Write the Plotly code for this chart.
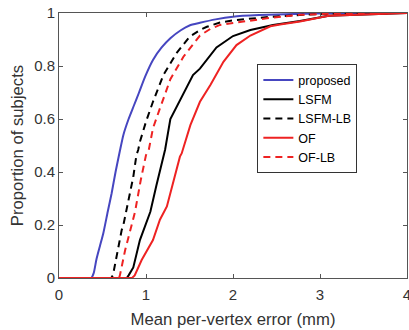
import plotly.graph_objects as go

# Data
proposed_x = [0, 0.37, 0.40, 0.43, 0.47, 0.51, 0.56, 0.605, 0.65, 0.70, 0.74, 0.80, 0.86, 0.92, 0.99, 1.08, 1.18, 1.28, 1.40, 1.50, 1.62, 1.80, 2.0, 2.3, 2.7, 3.2, 4.0]
proposed_y = [0, 0, 0.02, 0.07, 0.12, 0.17, 0.25, 0.32, 0.40, 0.48, 0.54, 0.60, 0.65, 0.70, 0.76, 0.823, 0.87, 0.905, 0.935, 0.953, 0.963, 0.976, 0.986, 0.992, 0.996, 0.999, 1.0]

lsfm_x = [0, 0.78, 0.80, 0.854, 0.93, 0.99, 1.05, 1.12, 1.22, 1.28, 1.39, 1.54, 1.62, 1.77, 1.81, 2.0, 2.2, 2.46, 2.77, 3.1, 3.5, 4.0]
lsfm_y = [0, 0, 0.01, 0.04, 0.143, 0.20, 0.25, 0.35, 0.485, 0.60, 0.67, 0.766, 0.79, 0.854, 0.87, 0.913, 0.936, 0.955, 0.97, 0.99, 0.995, 1.0]

lsfmlb_x = [0, 0.60, 0.62, 0.66, 0.72, 0.74, 0.78, 0.82, 0.854, 0.89, 0.91, 0.93, 1.0, 1.08, 1.2, 1.35, 1.5, 1.62, 1.70, 1.85, 2.0, 2.4, 2.8, 3.2, 4.0]
lsfmlb_y = [0, 0, 0.01, 0.08, 0.18, 0.20, 0.26, 0.33, 0.382, 0.464, 0.483, 0.514, 0.59, 0.665, 0.766, 0.848, 0.91, 0.936, 0.948, 0.964, 0.972, 0.985, 0.993, 0.998, 1.0]

of_x = [0, 0.84, 0.87, 0.95, 1.08, 1.16, 1.24, 1.31, 1.39, 1.41, 1.51, 1.62, 1.74, 1.89, 2.04, 2.2, 2.43, 2.54, 2.77, 3.1, 3.5, 4.0]
of_y = [0, 0, 0.01, 0.068, 0.143, 0.22, 0.27, 0.357, 0.458, 0.47, 0.577, 0.665, 0.728, 0.816, 0.879, 0.915, 0.95, 0.957, 0.968, 0.99, 0.995, 1.0]

oflb_x = [0, 0.69, 0.70, 0.76, 0.835, 0.874, 0.94, 1.0, 1.03, 1.08, 1.16, 1.28, 1.43, 1.58, 1.62, 1.74, 1.85, 2.0, 2.39, 2.77, 3.2, 4.0]
oflb_y = [0, 0, 0.01, 0.105, 0.20, 0.25, 0.37, 0.464, 0.48, 0.565, 0.64, 0.75, 0.835, 0.898, 0.915, 0.94, 0.955, 0.962, 0.98, 0.993, 0.998, 1.0]

x_ticks = [0, 1, 2, 3, 4]
y_ticks = [0, 0.2, 0.4, 0.6, 0.8, 1]
y_tick_labels = ["0", "0.2", "0.4", "0.6", "0.8", "1"]

BLUE = "#4646c0"
RED = "#ee2222"
BLACK = "#000000"

fig = go.Figure()
fig.add_trace(go.Scatter(x=proposed_x, y=proposed_y, mode="lines", name="proposed",
                         line=dict(color=BLUE, width=2, shape="spline", smoothing=0.6)))
fig.add_trace(go.Scatter(x=lsfm_x, y=lsfm_y, mode="lines", name="LSFM",
                         line=dict(color=BLACK, width=2)))
fig.add_trace(go.Scatter(x=lsfmlb_x, y=lsfmlb_y, mode="lines", name="LSFM-LB",
                         line=dict(color=BLACK, width=2, dash="7px,5px")))
fig.add_trace(go.Scatter(x=of_x, y=of_y, mode="lines", name="OF",
                         line=dict(color=RED, width=2)))
fig.add_trace(go.Scatter(x=oflb_x, y=oflb_y, mode="lines", name="OF-LB",
                         line=dict(color=RED, width=2, dash="7px,5px")))

axis_color = "#555555"
text_color = "#333333"
fig.update_layout(
    width=409, height=330,
    margin=dict(l=59, r=2, t=13, b=52, autoexpand=False),
    paper_bgcolor="white", plot_bgcolor="white",
    font=dict(family="Liberation Sans, Arial, sans-serif", size=14, color=text_color),
    showlegend=True,
    legend=dict(x=0.57, y=0.806, xanchor="left", yanchor="top",
                bgcolor="white", bordercolor="#333333", borderwidth=1,
                font=dict(size=12.5, color=BLACK), tracegroupgap=0),
    xaxis=dict(range=[0, 4], tickvals=x_ticks, ticktext=[str(v) for v in x_ticks],
               showgrid=False, zeroline=False, showline=True, linecolor=axis_color,
               linewidth=1, mirror="allticks", ticks="inside", ticklen=4,
               tickcolor=axis_color, tickfont=dict(size=15), automargin=False,
               ticklabeloverflow="allow", ticklabelstandoff=3,
               title=dict(text="Mean per-vertex error (mm)", font=dict(size=16.7), standoff=11)),
    yaxis=dict(range=[0, 1], tickvals=y_ticks, ticktext=y_tick_labels,
               showgrid=False, zeroline=False, showline=True, linecolor=axis_color,
               linewidth=1, mirror="allticks", ticks="inside", ticklen=4,
               tickcolor=axis_color, tickfont=dict(size=15), automargin=False,
               ticklabeloverflow="allow",
               title=dict(text="Proportion of subjects", font=dict(size=16.7), standoff=6)),
)

fig.write_html("out.html", config={"displayModeBar": False},
               post_script="document.body.style.margin='0';")
